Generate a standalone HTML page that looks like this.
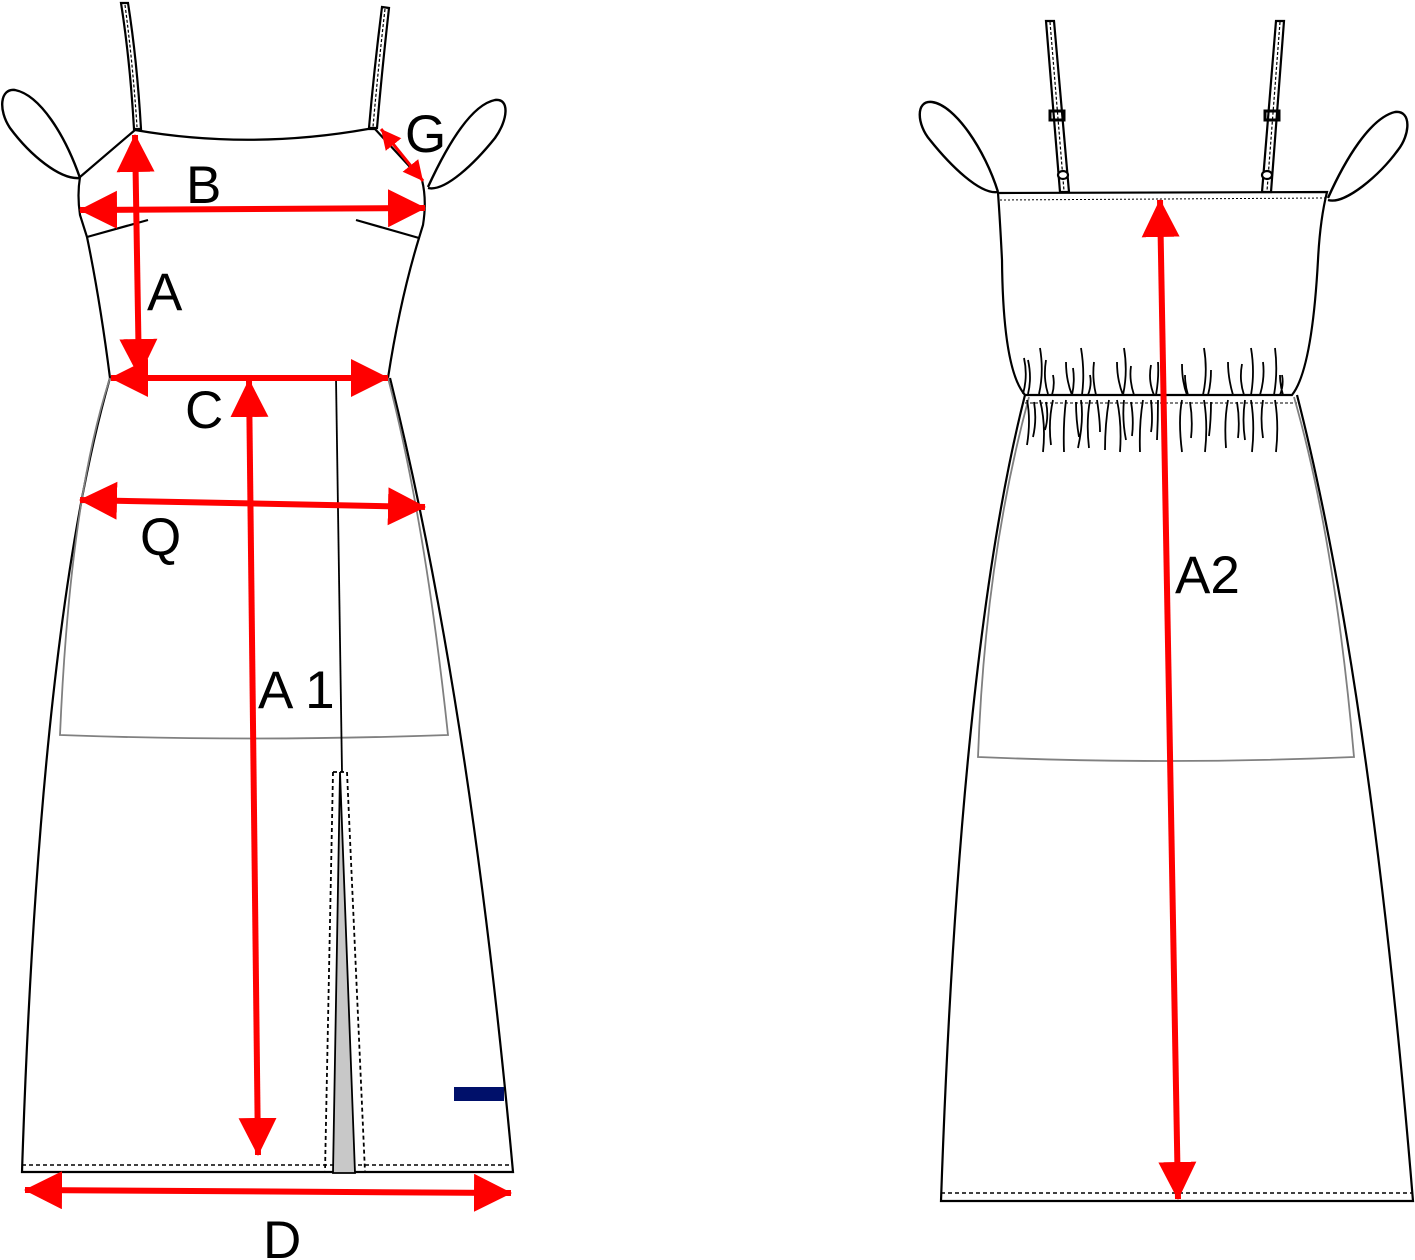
<!DOCTYPE html>
<html><head><meta charset="utf-8"><style>
html,body{margin:0;padding:0;background:#fff;}
svg{display:block;}
text{font-family:"Liberation Sans",Arial,sans-serif;fill:#000;}
</style></head><body>
<svg width="1415" height="1260" viewBox="0 0 1415 1260" xmlns="http://www.w3.org/2000/svg">
<defs>
<marker id="ah" markerUnits="userSpaceOnUse" markerWidth="40" markerHeight="40" refX="37" refY="19" orient="auto-start-reverse"><path d="M0,0 L38,19 L0,38 z" fill="#ff0000"/></marker>
<marker id="as" markerUnits="userSpaceOnUse" markerWidth="22" markerHeight="22" refX="20" refY="10" orient="auto-start-reverse"><path d="M0,0 L20,10 L0,20 z" fill="#ff0000"/></marker>
</defs>

<!-- LEFT DRESS -->
<g fill="none" stroke="#000" stroke-width="2.2">
  <path d="M121,3 L128,3 Q137,60 141,129 L134,129 Q130,60 121,3 Z" fill="#fff"/>
  <path d="M125,5 Q133,65 137,127" stroke-dasharray="3,2" stroke-width="1.2"/>
  <path d="M382,7 L389,8 Q382,70 377,128 L369,128 Q374,70 382,7 Z" fill="#fff"/>
  <path d="M385,9 Q378,70 373,127" stroke-dasharray="3,2" stroke-width="1.2"/>
  <path d="M80,178 C65,135 40,95 15,90 C0,88 -2,110 10,128 C30,155 60,180 80,178" stroke-width="2.4"/>
  <path d="M428,187 C445,150 470,105 495,100 C510,98 508,120 495,138 C475,163 445,192 428,188" stroke-width="2.4"/>
  <path d="M135,130 Q250,150 368,129 L375,129" />
  <path d="M135,130 L80,177 Q77,195 80,215 L87,237 Q100,300 110,378"/>
  <path d="M375,129 L422,180 Q427,200 423,225 L419,238 Q400,300 388,378"/>
  <path d="M87,237 L148,220 M356,220 L419,238"/>
  <path d="M110,378 Q40,620 22,1172 L513,1172 Q470,700 390,378"/>
  <path d="M22,1165 L513,1165" stroke-dasharray="4,3" stroke-width="1.5"/>
  <path d="M110,378 Q70,500 60,735 Q250,742 448,735 Q425,520 388,378" stroke="#808080" stroke-width="1.8"/>
  <path d="M336,378 L342,772" stroke-width="1.8"/>
  <path d="M340,772 L333,1173 L355,1173 Z" fill="#c8c8c8" stroke-width="1.8"/>
  <path d="M333,772 L347,772 L365,1172 M333,772 L325,1172" stroke-dasharray="4,3" stroke-width="1.8"/>
</g>
<rect x="454" y="1087" width="50" height="14" fill="#00106a"/>

<g stroke="#ff0000" stroke-width="6" fill="none">
  <line x1="135" y1="135" x2="139" y2="376" marker-start="url(#ah)" marker-end="url(#ah)"/>
  <line x1="80" y1="210" x2="425" y2="208" marker-start="url(#ah)" marker-end="url(#ah)"/>
  <line x1="111" y1="378" x2="388" y2="378" marker-start="url(#ah)" marker-end="url(#ah)"/>
  <line x1="80" y1="500" x2="425" y2="507" marker-start="url(#ah)" marker-end="url(#ah)"/>
  <line x1="249" y1="380" x2="258" y2="1155" marker-start="url(#ah)" marker-end="url(#ah)"/>
  <line x1="25" y1="1190" x2="511" y2="1193" marker-start="url(#ah)" marker-end="url(#ah)"/>
  <line x1="381" y1="129" x2="423" y2="181" stroke-width="3" marker-start="url(#as)" marker-end="url(#as)"/>
</g>
<g font-size="53">
  <text x="186" y="203">B</text>
  <text x="147" y="310">A</text>
  <text x="185" y="428">C</text>
  <text x="405" y="152">G</text>
  <text x="140" y="555">Q</text>
  <text x="258" y="708">A 1</text>
  <text x="263" y="1258">D</text>
</g>

<!-- RIGHT DRESS -->
<g fill="none" stroke="#000" stroke-width="2.2">
  <path d="M1046,21 L1054,21 L1069,192 L1060,192 Z" fill="#fff"/>
  <path d="M1050,22 L1064,191" stroke-dasharray="3,2" stroke-width="1.2"/>
  <path d="M1276,21 L1284,21 L1271,192 L1262,192 Z" fill="#fff"/>
  <path d="M1280,22 L1267,191" stroke-dasharray="3,2" stroke-width="1.2"/>
  <rect x="1050" y="111" width="14" height="9" stroke-width="3"/>
  <rect x="1265" y="111" width="14" height="9" stroke-width="3"/>
  <ellipse cx="1063" cy="175" rx="5" ry="4" fill="#fff"/>
  <ellipse cx="1267" cy="175" rx="5" ry="4" fill="#fff"/>
  <path d="M998,192 C985,150 955,105 932,102 C915,100 917,125 930,140 C950,165 980,195 998,192" stroke-width="2.4"/>
  <path d="M1328,198 C1345,160 1370,118 1395,112 C1412,110 1410,135 1398,150 C1380,175 1345,205 1328,200" stroke-width="2.4"/>
  <path d="M998,193 L1327,192 Q1320,220 1318,260 Q1312,370 1292,395 L1025,395 Q1003,370 1002,260 Q1000,220 998,193 Z"/>
  <path d="M1000,200 L1325,198" stroke-dasharray="2,2" stroke-width="1"/>
  <path d="M1025,403 L1297,403" stroke-dasharray="3,2" stroke-width="1"/>
  <path d="M1025,395 Q960,650 941,1201 L1413,1201 Q1370,680 1297,395"/>
  <path d="M941,1193 L1413,1193" stroke-dasharray="4,3" stroke-width="1.5"/>
  <path d="M1029,397 Q985,560 978,757 Q1165,765 1354,757 Q1335,540 1294,397" stroke="#808080" stroke-width="1.8"/>
  <g stroke-width="1.8">
    <path d="M1024,358 q4,18 -1,36 M1028,360 q4,18 0,34 M1040,348 q4,24 -1,46 M1046,360 q-3,18 2,34 M1053,375 q2,10 -1,20 M1066,362 q0,18 6,33 M1073,368 q2,14 -1,27 M1081,348 q4,24 1,47 M1090,375 q2,10 -2,20 M1117,362 q0,18 6,33 M1124,348 q4,24 -1,47 M1131,366 q-2,14 3,29 M1151,365 q-3,16 3,30 M1158,362 q1,16 -2,33 M1182,364 q0,18 5,31 M1204,348 q4,24 -1,47 M1211,370 q0,14 -3,25 M1228,362 q0,16 5,33 M1242,364 q-3,16 2,31 M1251,348 q4,24 0,47 M1263,362 q2,16 -3,33 M1275,348 q3,24 -1,47 M1282,375 q2,10 -2,20 M1094,362 q-2,16 2,33 M1185,375 q0,10 3,20 M1280,375 q0,10 3,20"/>
    <path d="M1027,400 q4,20 0,45 M1034,402 q3,18 -1,35 M1040,400 q6,24 3,52 M1046,402 q3,15 -1,28 M1053,400 q-5,22 -2,45 M1066,400 q-3,24 -2,52 M1076,402 q0,18 3,35 M1081,400 q3,20 -3,48 M1090,400 q-4,22 -1,48 M1097,400 q3,20 3,32 M1109,400 q-4,24 -4,50 M1117,400 q5,24 3,52 M1124,400 q-2,20 2,40 M1131,402 q3,18 1,34 M1143,400 q-4,24 -3,52 M1151,400 q2,20 0,32 M1158,400 q0,20 -1,40 M1182,400 q-4,20 0,52 M1190,402 q3,18 1,36 M1204,400 q4,24 1,52 M1211,402 q0,18 -2,34 M1228,400 q-4,20 -2,48 M1237,402 q3,18 1,36 M1245,400 q-3,20 0,40 M1251,400 q4,24 1,52 M1263,400 q-3,18 0,38 M1275,400 q4,24 1,52"/>
  </g>
</g>
<g stroke="#ff0000" stroke-width="6" fill="none">
  <line x1="1160" y1="200" x2="1178" y2="1199" marker-start="url(#ah)" marker-end="url(#ah)"/>
</g>
<text x="1175" y="593" font-size="53">A2</text>
</svg>
</body></html>
